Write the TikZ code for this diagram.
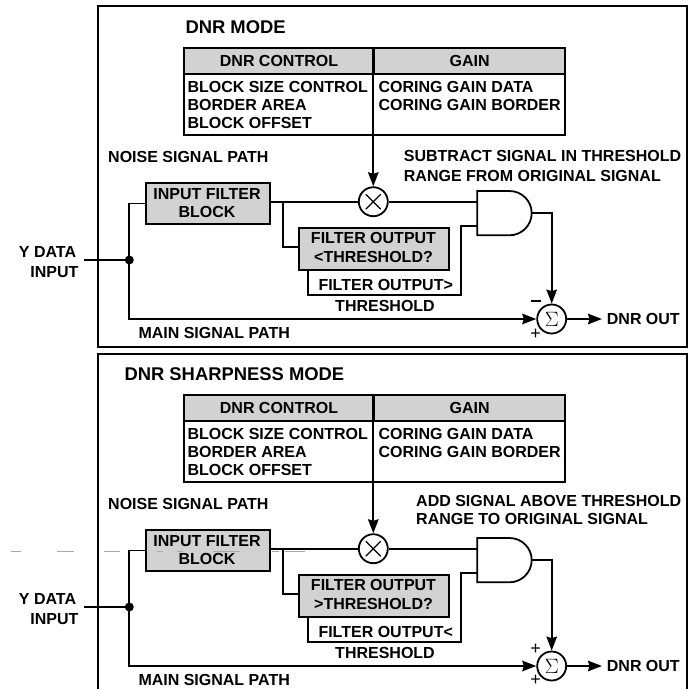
\documentclass[tikz,border=0pt]{standalone}
\usepackage{fontspec}
\setmainfont{Liberation Sans}
\usetikzlibrary{arrows.meta,calc}
\definecolor{boxgray}{HTML}{D2D2D2}
\definecolor{stray}{HTML}{A8A8A8}
\newcommand{\txtf}{\fontsize{16}{16}\bfseries\selectfont}
\newcommand{\ttlf}{\fontsize{18.4}{18.4}\bfseries\selectfont}
\tikzset{
 wire/.style={line width=1.8pt,black},
 sig/.style={wire,-{Stealth[length=14pt,width=10.5pt,inset=1.5pt]}},
 frame/.style={line width=2pt,black},
 lbl/.style={font=\txtf,inner sep=0pt,anchor=west},
 ttl/.style={font=\ttlf,inner sep=0pt,anchor=west},
 graybox/.style={draw=black,line width=2pt,fill=boxgray,inner sep=0pt,align=center,font=\txtf},
 whitebox/.style={draw=black,line width=2pt,fill=white,inner sep=0pt},
 opnode/.style={circle,draw=black,line width=1.8pt,fill=white,minimum size=29pt,inner sep=0pt},
 dot/.style={circle,fill=black,minimum size=9pt,inner sep=0pt},
 signmark/.style={inner sep=0pt,font=\fontsize{18}{18}\selectfont},
 straydash/.style={line width=0.8pt,stray},
}
% #1 prefix, #2 y offset, #3 filter text, #4 output text
\newcommand{\panel}[4]{%
\begin{scope}[shift={(0,#2)}]
 \node[whitebox,minimum width=381.3pt,minimum height=87pt,anchor=north west] (#1tab) at (182.7,47.3) {};
 \node[graybox,minimum width=190.6pt,minimum height=25.4pt,anchor=north west] (#1hl) at (182.7,47.3) {DNR CONTROL};
 \node[graybox,minimum width=190.7pt,minimum height=25.4pt,anchor=north west] (#1hr) at (373.3,47.3) {GAIN};
 \node[lbl] (#1c1) at (187.3,86.7) {BLOCK SIZE CONTROL};
 \node[lbl] (#1c2) at (187.3,105.3) {BORDER AREA};
 \node[lbl] (#1c3) at (187.3,123.3) {BLOCK OFFSET};
 \node[lbl] (#1g1) at (378.3,86.7) {CORING GAIN DATA};
 \node[lbl] (#1g2) at (378.3,105.3) {CORING GAIN BORDER};
 \coordinate (#1ctop) at (373.3,47.3);
 \node[lbl] (#1noise) at (108,156.7) {NOISE SIGNAL PATH};
 \node[lbl] (#1main) at (138.3,333.3) {MAIN SIGNAL PATH};
 \node[graybox,minimum width=123.7pt,minimum height=41.6pt,anchor=north west] (#1inf) at (145.3,181.7) {};
 \node[inner sep=0pt,font=\txtf] (#1inft) at (207,194) {INPUT FILTER};
 \node[inner sep=0pt,font=\txtf] (#1infb) at (207,211.7) {BLOCK};
 \node[graybox,minimum width=150.3pt,minimum height=42.6pt,anchor=north west] (#1fo) at (298,226.7) {};
 \node[inner sep=0pt,font=\txtf] (#1fot) at (373.5,238.3) {FILTER OUTPUT};
 \node[inner sep=0pt,font=\txtf] (#1fob) at (373.5,257.3) {#3};
 \node[lbl] (#1brt) at (318.3,285) {#4};
 \node[inner sep=0pt,font=\txtf] (#1brb) at (385,305.7) {THRESHOLD};
 \node[opnode] (#1mul) at (373.3,201.7) {};
 \draw[line width=1.2pt] ($(#1mul)+(-7.5,-7.5)$) -- ($(#1mul)+(7.5,7.5)$) ($(#1mul)+(7.5,-7.5)$) -- ($(#1mul)+(-7.5,7.5)$);
 \node[opnode,font=\fontsize{20}{20}\selectfont] (#1sum) at (551.7,319) {$\Sigma$};
 \node[dot] (#1jn) at (129.3,260) {};
 \coordinate (#1ytail) at (84,260);
 \coordinate (#1outtip) at (602,319);
 \node[lbl] (#1out) at (606.7,319) {DNR OUT};
 \node[lbl,anchor=east] (#1y1) at (76.3,252.3) {Y DATA};
 \node[lbl,anchor=east] (#1y2) at (78.7,271.7) {INPUT};
 % AND gate
 \coordinate (#1gsw) at (477.3,235.3);
 \coordinate (#1gnw) at (477.3,191);
 \coordinate (#1gin1) at (477.3,201.7);
 \coordinate (#1gin2) at (477.3,226);
 \coordinate (#1gout) at (531.7,213.1);
 \draw[wire,line join=miter] (#1gnw) -- (509.5,191) .. controls (521.7,191) and (531.7,200.9) .. (#1gout) .. controls (531.7,225.3) and (521.7,235.3) .. (509.5,235.3) -- (#1gsw) -- cycle;
 % connectors
 \draw[wire] (#1ytail) -- (#1jn.center);
 \draw[wire] (#1inf.west) -- (#1jn.center |- #1inf.west) -- (#1jn.center);
 \draw[sig] (#1jn.center) |- (#1sum.west);
 \draw[wire] (#1inf.east |- #1mul.west) -- (#1mul.west);
 \draw[wire] (283,201.7) |- (#1fo.west |- 0,247);
 \draw[wire] (#1mul.east) -- (#1gin1);
 \draw[wire] (308,269.3) |- (460.7,295) |- (#1gin2);
 \draw[sig] (#1ctop) -- (#1mul.north);
 \draw[sig] (#1gout) -| (#1sum.north);
 \draw[sig] (#1sum.east) -- (#1outtip);
\end{scope}
}
\begin{document}
\begin{tikzpicture}[x=1pt,y=-1pt]
\useasboundingbox (0,0) rectangle (691,689);
\fill[white] (0,0) rectangle (691,689);
\draw[frame] (97.5,6) rectangle (686.7,346.5);
\draw[frame] (97.5,689) -- (97.5,353.5) -- (686.7,353.5) -- (686.7,689);
\panel{a}{0}{<THRESHOLD?}{FILTER OUTPUT>}
\panel{b}{347}{>THRESHOLD?}{FILTER OUTPUT<}
\node[ttl] (ta) at (185.3,27.3) {DNR MODE};
\node[ttl] (tb) at (124.3,374.3) {DNR SHARPNESS MODE};
\node[lbl] (s1) at (403.7,156) {SUBTRACT SIGNAL IN THRESHOLD};
\node[lbl] (s2) at (403.7,175.7) {RANGE FROM ORIGINAL SIGNAL};
\node[lbl] (d1) at (416,501) {ADD SIGNAL ABOVE THRESHOLD};
\node[lbl] (d2) at (416,519) {RANGE TO ORIGINAL SIGNAL};
\node[signmark] (am) at (535.7,301) {\rule{10pt}{1.6pt}};
\node[signmark] (ap) at (535.7,334) {+};
\node[signmark] (bm) at (535.7,649) {+};
\node[signmark] (bp) at (535.7,680.5) {+};
\draw[straydash] (11,551.4) -- (21,551.4) (57,551.4) -- (74,551.4) (104,551.4) -- (120,551.4)
 (157,551.4) -- (163,551.4) (177,551.4) -- (183,551.4) (213,551.4) -- (240,551.4)
 (272,551.4) -- (279,551.4) (285,551.4) -- (305,551.4);
\end{tikzpicture}
\end{document}
